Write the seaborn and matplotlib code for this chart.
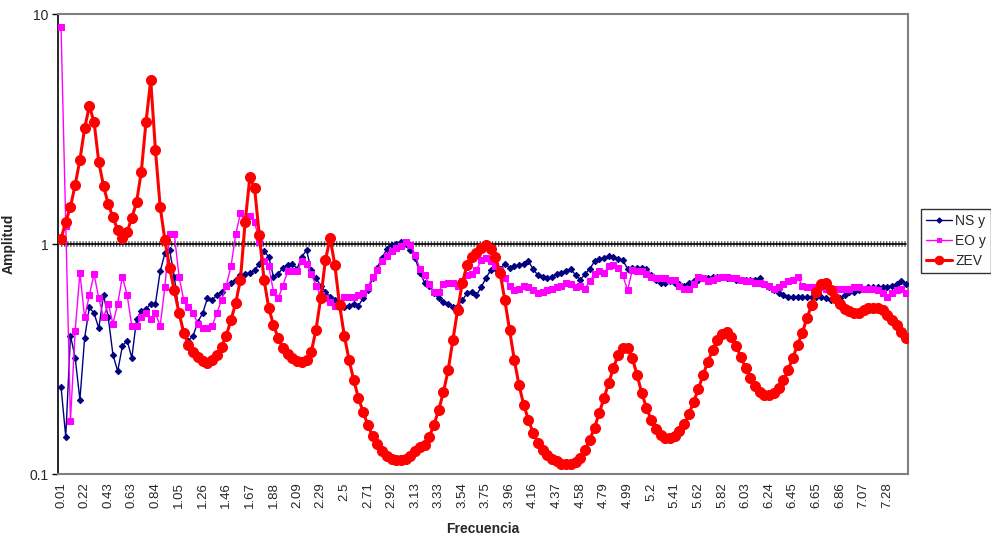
import matplotlib
matplotlib.use("Agg")
import matplotlib.pyplot as plt
import seaborn as sns
import numpy as np
import pandas as pd

tick_labels = ["0.01", "0.22", "0.43", "0.63", "0.84", "1.05", "1.26", "1.46", "1.67", "1.88",
               "2.09", "2.29", "2.5", "2.71", "2.92", "3.13", "3.33", "3.54", "3.75", "3.96",
               "4.16", "4.37", "4.58", "4.79", "4.99", "5.2", "5.41", "5.62", "5.82", "6.03",
               "6.24", "6.45", "6.65", "6.86", "7.07", "7.28"]
points_per_label = 5

ns_y = [0.24, 0.145, 0.40, 0.32, 0.21, 0.39, 0.53, 0.50, 0.43, 0.60,
        0.48, 0.33, 0.28, 0.36, 0.38, 0.32, 0.47, 0.51, 0.52, 0.55,
        0.55, 0.76, 0.91, 0.94, 0.72, 0.50, 0.42, 0.38, 0.40, 0.46,
        0.50, 0.58, 0.57, 0.60, 0.62, 0.66, 0.68, 0.70, 0.73, 0.74,
        0.75, 0.77, 0.82, 0.93, 0.88, 0.72, 0.74, 0.79, 0.81, 0.82,
        0.78, 0.88, 0.94, 0.77, 0.71, 0.66, 0.62, 0.59, 0.57, 0.53,
        0.53, 0.54, 0.55, 0.54, 0.58, 0.63, 0.71, 0.79, 0.87, 0.95,
        0.99, 1.00, 1.02, 1.00, 0.94, 0.87, 0.75, 0.68, 0.66, 0.61,
        0.58, 0.56, 0.55, 0.53, 0.54, 0.57, 0.61, 0.62, 0.60, 0.65,
        0.71, 0.77, 0.79, 0.78, 0.82, 0.79, 0.80, 0.81, 0.82, 0.84,
        0.78, 0.73, 0.72, 0.71, 0.72, 0.74, 0.75, 0.76, 0.78, 0.73,
        0.70, 0.74, 0.78, 0.84, 0.86, 0.87, 0.89, 0.88, 0.86, 0.85,
        0.78, 0.79, 0.79, 0.79, 0.78, 0.73, 0.70, 0.68, 0.68, 0.69,
        0.68, 0.67, 0.66, 0.68, 0.69, 0.70, 0.71, 0.71, 0.72, 0.72,
        0.72, 0.71, 0.71, 0.70, 0.70, 0.70, 0.70, 0.70, 0.71, 0.67,
        0.65, 0.63, 0.61, 0.60, 0.59, 0.59, 0.59, 0.59, 0.59, 0.59,
        0.59, 0.59, 0.58, 0.57, 0.57, 0.58, 0.60, 0.62, 0.62, 0.63,
        0.64, 0.65, 0.65, 0.65, 0.65, 0.65, 0.66, 0.67, 0.69, 0.67]

eo_y = [8.8, 1.20, 0.17, 0.42, 0.75, 0.48, 0.60, 0.74, 0.58, 0.48,
        0.55, 0.45, 0.55, 0.72, 0.60, 0.44, 0.44, 0.48, 0.50, 0.47,
        0.50, 0.44, 0.65, 1.10, 1.10, 0.72, 0.57, 0.53, 0.50, 0.45,
        0.43, 0.43, 0.44, 0.50, 0.57, 0.66, 0.80, 1.10, 1.36, 1.28,
        1.33, 1.25, 1.02, 0.84, 0.80, 0.62, 0.58, 0.66, 0.76, 0.76,
        0.76, 0.84, 0.82, 0.74, 0.66, 0.60, 0.58, 0.56, 0.54, 0.55,
        0.59, 0.59, 0.59, 0.60, 0.61, 0.65, 0.72, 0.77, 0.84, 0.89,
        0.93, 0.96, 0.98, 1.02, 0.99, 0.90, 0.78, 0.73, 0.67, 0.62,
        0.62, 0.67, 0.68, 0.68, 0.66, 0.69, 0.73, 0.74, 0.77, 0.85,
        0.87, 0.84, 0.80, 0.77, 0.71, 0.66, 0.63, 0.64, 0.66, 0.65,
        0.63, 0.61, 0.62, 0.63, 0.64, 0.65, 0.66, 0.68, 0.67, 0.65,
        0.66, 0.64, 0.69, 0.74, 0.76, 0.75, 0.80, 0.81, 0.79, 0.73,
        0.63, 0.77, 0.76, 0.76, 0.74, 0.72, 0.71, 0.71, 0.71, 0.70,
        0.70, 0.66, 0.64, 0.64, 0.67, 0.72, 0.71, 0.69, 0.70, 0.71,
        0.72, 0.72, 0.71, 0.71, 0.70, 0.69, 0.69, 0.68, 0.68, 0.67,
        0.66, 0.64, 0.65, 0.67, 0.69, 0.70, 0.72, 0.66, 0.65, 0.65,
        0.65, 0.65, 0.64, 0.64, 0.64, 0.64, 0.64, 0.64, 0.65, 0.65,
        0.64, 0.64, 0.64, 0.63, 0.61, 0.59, 0.61, 0.63, 0.64, 0.61]

zev = [1.05, 1.25, 1.45, 1.81, 2.32, 3.19, 3.98, 3.39, 2.27, 1.79,
       1.49, 1.31, 1.15, 1.06, 1.13, 1.30, 1.52, 2.06, 3.39, 5.16,
       2.56, 1.45, 1.04, 0.79, 0.63, 0.50, 0.41, 0.364, 0.339, 0.323,
       0.31, 0.304, 0.314, 0.329, 0.357, 0.40, 0.467, 0.554, 0.70, 1.25,
       1.95, 1.75, 1.09, 0.70, 0.527, 0.445, 0.39, 0.353, 0.333, 0.32,
       0.31, 0.307, 0.314, 0.339, 0.423, 0.58, 0.85, 1.06, 0.81, 0.543,
       0.40, 0.314, 0.256, 0.214, 0.186, 0.163, 0.146, 0.135, 0.126, 0.12,
       0.116, 0.115, 0.115, 0.116, 0.12, 0.126, 0.131, 0.134, 0.145, 0.164,
       0.19, 0.227, 0.283, 0.383, 0.516, 0.677, 0.81, 0.878, 0.914, 0.96,
       0.99, 0.95, 0.878, 0.748, 0.571, 0.423, 0.314, 0.244, 0.20, 0.172,
       0.151, 0.137, 0.127, 0.121, 0.116, 0.114, 0.111, 0.11, 0.11, 0.113,
       0.117, 0.127, 0.141, 0.159, 0.184, 0.214, 0.249, 0.289, 0.329, 0.353,
       0.353, 0.32, 0.27, 0.225, 0.194, 0.172, 0.157, 0.148, 0.143, 0.143,
       0.146, 0.154, 0.165, 0.182, 0.206, 0.234, 0.27, 0.307, 0.346, 0.383,
       0.406, 0.415, 0.394, 0.36, 0.323, 0.289, 0.262, 0.241, 0.227, 0.221,
       0.221, 0.225, 0.237, 0.256, 0.283, 0.32, 0.364, 0.41, 0.477, 0.543,
       0.618, 0.67, 0.677, 0.631, 0.582, 0.548, 0.522, 0.511, 0.501, 0.501,
       0.516, 0.527, 0.527, 0.527, 0.516, 0.491, 0.467, 0.445, 0.415, 0.39]

reference_level = [1.0] * len(zev)

sns.set_style("white")
plt.rcParams['font.family'] = ['Liberation Sans', 'DejaVu Sans']

fig = plt.figure(figsize=(9.91, 5.36), dpi=100)
ax = fig.add_axes([58 / 991, 62 / 536, 850 / 991, 460 / 536])

pos = np.arange(len(zev))
df = pd.DataFrame({"pos": pos, "NS y": ns_y, "EO y": eo_y, "ZEV": zev, "ref": reference_level})

# constant reference series at 1 (striped band)
ax.plot(df["pos"], df["ref"], color="#555555", lw=4.0, dashes=(0.25, 0.3), zorder=1,
        solid_capstyle="butt", label="_nolegend_")
ax.plot(df["pos"], df["ref"], color="black", lw=1.2, zorder=1.1, label="_nolegend_")

sns.lineplot(data=df, x="pos", y="NS y", ax=ax, color="#000080", lw=1.0, marker="D",
             markersize=3.2, markeredgecolor="#000080", markerfacecolor="#000080",
             label="NS y", estimator=None, sort=False, zorder=3)
sns.lineplot(data=df, x="pos", y="EO y", ax=ax, color="#FF00FF", lw=1.0, marker="s",
             markersize=4.2, markeredgecolor="#FF00FF", markerfacecolor="#FF00FF",
             label="EO y", estimator=None, sort=False, zorder=4)
sns.lineplot(data=df, x="pos", y="ZEV", ax=ax, color="#FF0000", lw=2.2, marker="o",
             markersize=7.2, markeredgecolor="#FF0000", markerfacecolor="#FF0000",
             label="ZEV", estimator=None, sort=False, zorder=5)

ax.set_yscale("log")
ax.set_ylim(0.1, 10)
ax.set_yticks([0.1, 1, 10])
ax.set_yticklabels(["0.1", "1", "10"])
ax.yaxis.set_minor_locator(matplotlib.ticker.NullLocator())
ax.set_xlim(-0.64, len(zev) - 0.6)
ax.set_xticks(pos[::points_per_label][:len(tick_labels)])
ax.set_xticklabels(tick_labels, rotation=90)

ax.tick_params(axis="y", which="major", length=4, width=1, color="black", labelsize=10,
               direction="out", left=True, pad=3)
ax.tick_params(axis="x", length=0, labelsize=9.5, pad=6)

for side in ["top", "right", "bottom"]:
    ax.spines[side].set_color("#808080")
    ax.spines[side].set_linewidth(1.5)
ax.spines["left"].set_color("black")
ax.spines["left"].set_linewidth(1.2)

ax.set_xlabel("Frecuencia", fontsize=10, fontweight="bold")
ax.set_ylabel("Amplitud", fontsize=10, fontweight="bold")
ax.xaxis.set_label_coords(0.5, -0.105)
ax.yaxis.set_label_coords(-0.05, 0.5)

leg = ax.legend(loc="center left", bbox_to_anchor=(921 / 991, 1 - 241 / 536),
                bbox_transform=fig.transFigure, frameon=True, fancybox=False,
                edgecolor="black", fontsize=10, handlelength=1.9, borderpad=0.35,
                labelspacing=0.45, handletextpad=0.2, borderaxespad=0, markerscale=0.85)
leg.get_frame().set_linewidth(1.0)

fig.savefig("out.png", dpi=100)
